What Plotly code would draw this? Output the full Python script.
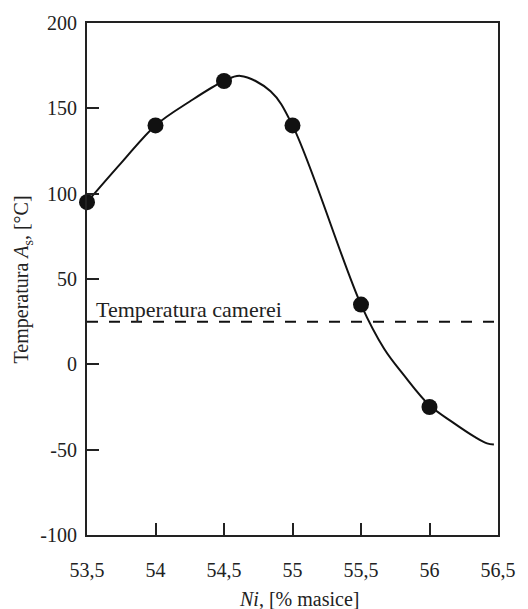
import plotly.graph_objects as go

# Measured austenite-start temperature vs. Ni content
ni_pts = [53.5, 54.0, 54.5, 55.0, 55.5, 56.0]
as_pts = [95, 140, 166, 140, 35, -25]

# Hand-drawn trend curve through the measurements (knots of the smooth line)
curve_ni = [53.5, 53.75, 54.0, 54.25, 54.5, 54.62, 54.84, 55.0, 55.5, 55.67, 55.81, 56.0, 56.17, 56.33, 56.42, 56.47]
curve_t = [95, 118, 140, 154, 166, 169, 160, 140, 35, 9, -6, -24, -34, -42.5, -46.3, -47]

# Room temperature reference level
room_temp = 25
room_label = "Temperatura camerei"

x_ticks = [53.5, 54.0, 54.5, 55.0, 55.5, 56.0, 56.5]
x_ticktext = ["53,5", "54", "54,5", "55", "55,5", "56", "56,5"]
y_ticks = [-100, -50, 0, 50, 100, 150, 200]
y_ticktext = ["-100", "-50", "0", "50", "100", "150", "200"]

FONT = "Liberation Serif, Times New Roman, serif"
INK = "#222222"

fig = go.Figure()

fig.add_trace(go.Scatter(
    x=curve_ni, y=curve_t, mode="lines",
    line=dict(color="#111111", width=2, shape="spline", smoothing=1.0),
    hoverinfo="skip", cliponaxis=False,
))

fig.add_trace(go.Scatter(
    x=[x_ticks[0], x_ticks[-1]], y=[room_temp, room_temp], mode="lines",
    line=dict(color="#111111", width=2, dash="11px,11px"),
    hoverinfo="skip", cliponaxis=False,
))

fig.add_trace(go.Scatter(
    x=ni_pts, y=as_pts, mode="markers",
    marker=dict(color="#111111", size=16),
    cliponaxis=False,
))

fig.add_annotation(
    x=53.55, y=room_temp, xref="x", yref="y",
    text=room_label, showarrow=False,
    xanchor="left", yanchor="bottom", yshift=-2,
    font=dict(family=FONT, size=22, color=INK),
)

fig.add_annotation(
    x=-0.157, y=0.5, xref="paper", yref="paper",
    text="Temperatura <i>A</i><sub>s</sub>, [°C]", showarrow=False,
    textangle=-90, xanchor="center", yanchor="middle",
    font=dict(family=FONT, size=20, color=INK),
)

fig.add_annotation(
    x=0.517, y=-0.125, xref="paper", yref="paper",
    text="<i>Ni</i>, [% masice]", showarrow=False,
    xanchor="center", yanchor="middle",
    font=dict(family=FONT, size=20, color=INK),
)

axis_common = dict(
    showline=True, linecolor=INK, linewidth=2, mirror=True,
    ticks="inside", ticklen=12, tickwidth=2, tickcolor=INK,
    showgrid=False, zeroline=False,
    tickfont=dict(family=FONT, size=20, color=INK),
)

fig.update_xaxes(range=[53.5, 56.5], tickvals=x_ticks, ticktext=x_ticktext,
                 ticklabelstandoff=16, **axis_common)
fig.update_yaxes(range=[-100, 200], tickvals=y_ticks, ticktext=y_ticktext,
                 ticklabelstandoff=4, **axis_common)

fig.update_layout(
    width=528, height=609,
    margin=dict(l=87, r=27, t=15, b=74),
    paper_bgcolor="white", plot_bgcolor="white",
    showlegend=False,
    font=dict(family=FONT, color=INK),
)

fig.write_html("out.html")
